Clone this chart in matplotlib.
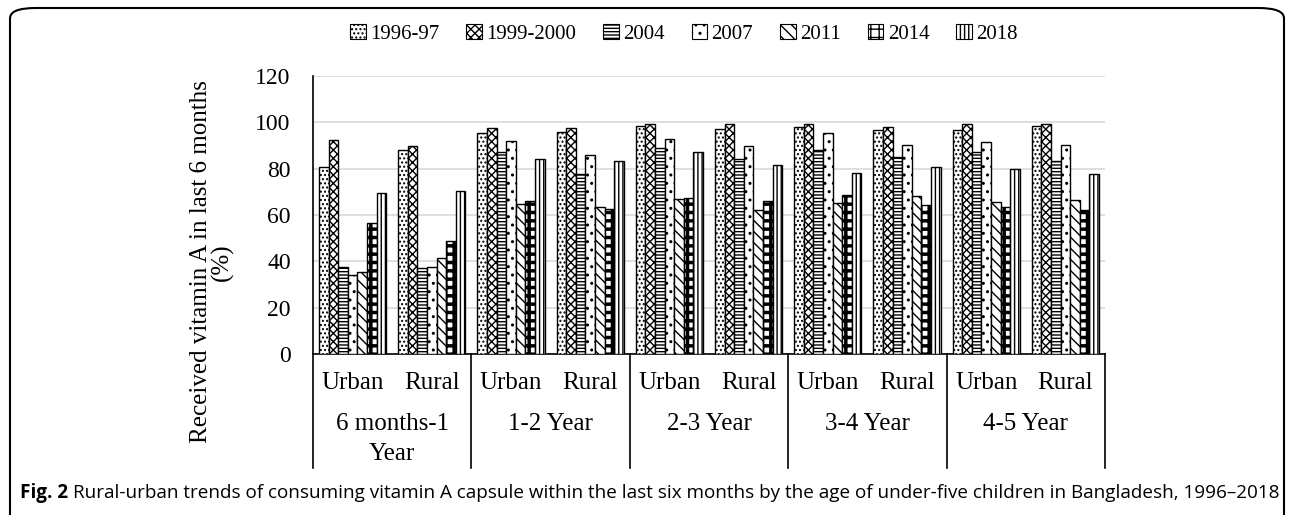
import numpy as np
import matplotlib
matplotlib.use("Agg")
import matplotlib.pyplot as plt
from matplotlib.patches import Patch, FancyBboxPatch
from matplotlib.lines import Line2D

plt.rcParams['font.family'] = ['Liberation Serif', 'DejaVu Serif']
plt.rcParams['hatch.linewidth'] = 1.0

# data (percent)
years = ['1996-97', '1999-2000', '2004', '2007', '2011', '2014', '2018']
ages = ['6 months-1\nYear', '1-2 Year', '2-3 Year', '3-4 Year', '4-5 Year']
areas = ['Urban', 'Rural']

v_1996 = [80.6, 88.1, 95.3, 95.8, 98.3, 97.0, 98.2, 96.8, 96.8, 98.3]
v_1999 = [92.4, 89.8, 97.6, 97.6, 99.2, 99.2, 99.4, 98.2, 99.1, 99.2]
v_2004 = [37.7, 37.0, 87.1, 77.6, 88.9, 84.1, 88.1, 84.9, 87.1, 83.1]
v_2007 = [34.1, 37.7, 92.0, 86.1, 92.9, 89.6, 95.6, 90.4, 91.4, 90.3]
v_2011 = [35.6, 41.3, 64.7, 63.6, 67.0, 62.2, 65.1, 68.0, 65.4, 66.5]
v_2014 = [56.4, 48.9, 66.1, 62.6, 67.5, 66.2, 68.7, 64.4, 63.4, 62.2]
v_2018 = [69.4, 70.4, 84.1, 83.1, 87.4, 81.6, 78.3, 80.6, 79.8, 77.8]
series = [v_1996, v_1999, v_2004, v_2007, v_2011, v_2014, v_2018]

hatches = ['....', 'xxxx', '-----', '..', '\\\\\\', '++', '||||']
hatch_lw = [1.0, 1.0, 1.0, 1.0, 1.0, 2.5, 1.0]

fig = plt.figure(figsize=(12.9, 5.15), dpi=100)
ax = fig.add_axes([313 / 1290, 1 - 354 / 515, 792 / 1290, 278 / 515])

x = np.arange(len(v_1996))
w = 0.121
for j, vals in enumerate(series):
    with plt.rc_context({'hatch.linewidth': hatch_lw[j]}):
        ax.bar(x + (j - 3) * w, vals, w, facecolor='white', edgecolor='black',
               hatch=hatches[j], linewidth=1.0, zorder=3)

ax.set_xlim(-0.5, len(x) - 0.5)
ax.set_ylim(0, 120)
ax.set_yticks(range(0, 121, 20))
ax.yaxis.grid(True, color='#d9d9d9', linewidth=1.2, zorder=0)
ax.tick_params(axis='y', length=0, pad=16, labelsize=17)
ax.set_xticks([])
for s in ['top', 'right']:
    ax.spines[s].set_visible(False)
ax.spines['left'].set_linewidth(1.2)
ax.spines['bottom'].set_linewidth(1.2)

# category table under the axis
tr = ax.get_xaxis_transform()
for k in range(len(ages) + 1):
    xb = -0.5 + 2 * k
    ax.add_line(Line2D([xb, xb], [0, -114 / 278], transform=tr, color='black',
                       linewidth=1.2, clip_on=False))
for i in x:
    ax.text(i, -29 / 278, areas[i % 2], transform=tr, ha='center', va='center',
            fontsize=18)
for k, a in enumerate(ages):
    ax.text(2 * k + 0.5, -59 / 278, a, transform=tr, ha='center', va='top',
            fontsize=18, linespacing=1.5)

fig.text(212 / 1290, 1 - 262 / 515, 'Received vitamin A in last 6 months\n(%)',
         rotation=90, ha='center', va='center', fontsize=18, linespacing=0.95)

handles = []
for h, hl in zip(hatches, hatch_lw):
    with plt.rc_context({'hatch.linewidth': hl}):
        handles.append(Patch(facecolor='white', edgecolor='black', hatch=h,
                             linewidth=0.8))
fig.legend(handles, years, loc='center', bbox_to_anchor=(684 / 1290, 1 - 34 / 515),
           ncol=7, frameon=False, fontsize=15, handlelength=0.75, handleheight=0.75,
           handletextpad=0.2, columnspacing=1.3)

# rounded frame and caption
fig.patches.append(FancyBboxPatch((10 / 1290, -0.05), 1274 / 1290, 1.05 - 8 / 515,
                                  boxstyle='round,pad=0,rounding_size=0.02',
                                  transform=fig.transFigure, facecolor='none',
                                  edgecolor='black', linewidth=1.5))
t1 = fig.text(20 / 1290, 1 - 493 / 515, 'Fig. 2', fontsize=13.6, fontweight='bold',
              family='Open Sans', va='center')
fig.canvas.draw()
bb = t1.get_window_extent()
fig.text(bb.x1 / 1290 + 5 / 1290, 1 - 493 / 515,
         'Rural-urban trends of consuming vitamin A capsule within the last six months '
         'by the age of under-five children in Bangladesh, 1996\u20132018',
         fontsize=13.6, family='Open Sans', va='center')

fig.savefig('out.png', dpi=100)
